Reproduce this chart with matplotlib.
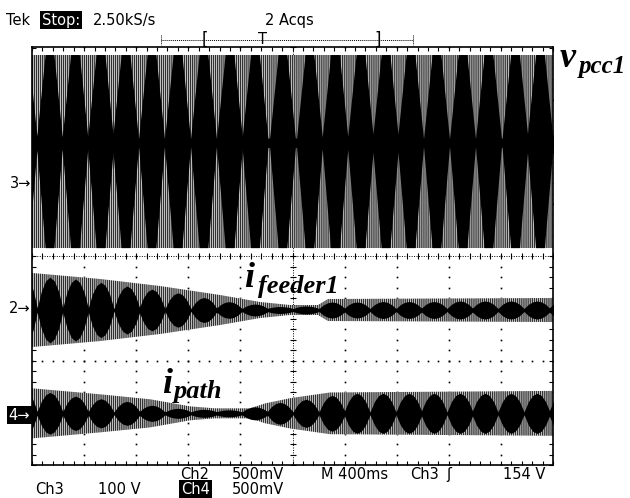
import numpy as np
import matplotlib
matplotlib.use("Agg")
import matplotlib.pyplot as plt

plt.rcParams['hatch.linewidth'] = 1.0

# screen is 10 x 8 divisions, values below are in divisions
# Ch3 (v_pcc1)
ch3_offset = 2.015
ch3_centers = [-0.15, 0.336, 0.825, 1.315, 1.795, 2.294, 2.793, 3.292, 3.791, 4.280,
               4.808, 5.326, 5.816, 6.305, 6.785, 7.265, 7.764, 8.263, 8.762, 9.271,
               9.750, 10.24]
ch3_peaks = [1.85] * 22
ch3_neck_hi, ch3_neck_lo = 0.25, -0.07
ch3_env_x = [0, 10]
ch3_env = [1.85, 1.85]

# Ch2 (i_feeder1)
ch2_offset = -1.03
ch2_centers = [-0.144, 0.345, 0.835, 1.324, 1.823, 2.303, 2.802, 3.301, 3.781, 4.280,
               4.760, 5.259, 5.758, 6.238, 6.737, 7.236, 7.716, 8.215, 8.695, 9.194,
               9.693, 10.17]
ch2_peaks = [0.68, 0.63, 0.595, 0.53, 0.46, 0.40, 0.33, 0.24, 0.16, 0.115,
             0.067, 0.077, 0.154, 0.154, 0.163, 0.163, 0.163, 0.173, 0.173, 0.173,
             0.173, 0.173]
ch2_neck = 0.03
ch2_env_x = [0, 1.305, 2.457, 3.608, 4.376, 4.952, 5.489, 5.681, 10]
ch2_env = [0.71, 0.595, 0.46, 0.288, 0.154, 0.096, 0.096, 0.211, 0.23]

# Ch4 (i_path)
ch4_offset = -3.01
ch4_centers = [-0.144, 0.345, 0.835, 1.324, 1.823, 2.303, 2.802, 3.301, 3.781, 4.280,
               4.760, 5.259, 5.758, 6.238, 6.737, 7.236, 7.716, 8.215, 8.695, 9.194,
               9.693, 10.17]
ch4_peaks = [0.44, 0.40, 0.33, 0.28, 0.23, 0.155, 0.096, 0.077, 0.067, 0.125,
             0.21, 0.27, 0.345, 0.385, 0.385, 0.385, 0.385, 0.385, 0.385, 0.385,
             0.385, 0.385]
ch4_neck = 0.03
ch4_env_x = [0, 1.305, 2.265, 3.033, 3.512, 4.184, 4.472, 4.952, 5.72, 10]
ch4_env = [0.48, 0.365, 0.27, 0.134, 0.096, 0.096, 0.19, 0.29, 0.40, 0.43]

lobe_period = 0.495
# lobe shapes (position in lobe, fraction of peak)
lens_pos = [0, 1/6, 2/6, 0.5, 4/6, 5/6, 1]
lens_val = [0, 0.55, 0.88, 1.0, 0.88, 0.55, 0]
flat_pos = [0, 0.33, 0.67, 1]
flat_val = [0, 1, 1, 0]


def lobes(centers, peaks, pos, val, neck_hi, neck_lo):
    xs, hi, lo = [], [], []
    for c, p in zip(centers, peaks):
        for f, v in zip(pos, val):
            xs.append(c + (f - 0.5) * lobe_period)
            hi.append(neck_hi + (p - neck_hi) * v)
            lo.append(neck_lo + (p - neck_lo) * v)
    return np.array(xs), np.array(hi), np.array(lo)


def draw_trace(ax, offset, env_x, env, xs, hi, lo):
    env = np.array(env)
    ax.fill_between(env_x, offset - env, offset + env, facecolor='white',
                    edgecolor='#303030', hatch='|' * 8, linewidth=0, zorder=2)
    ax.fill_between(xs, offset - lo, offset + hi, color='black', linewidth=0, zorder=3)


fig = plt.figure(figsize=(6.3, 4.98), dpi=100)
ax = fig.add_axes([32 / 630, 33 / 498, 521 / 630, 417.5 / 498])
ax.set_xlim(0, 10)
ax.set_ylim(-4, 4)

# graticule
ax.set_xticks(np.arange(0, 10.01, 1))
ax.set_xticks(np.arange(0, 10.01, 0.2), minor=True)
ax.set_yticks(np.arange(-4, 4.01, 1))
ax.set_yticks(np.arange(-4, 4.01, 0.2), minor=True)
ax.tick_params(which='both', direction='in', top=True, right=True, length=3,
               width=0.8, labelbottom=False, labelleft=False)
for s in ax.spines.values():
    s.set_linewidth(1.2)

dots_y = np.arange(-4, 4.01, 0.2)
dots_x = np.arange(0, 10.01, 0.2)
for gx in range(1, 10):
    if gx != 5:
        ax.plot(np.full(dots_y.size, gx), dots_y, ls='none', marker='s', ms=1.2,
                mec='none', color='black', zorder=1)
for gy in range(-3, 4):
    if gy != 0:
        ax.plot(dots_x, np.full(dots_x.size, gy), ls='none', marker='s', ms=1.2,
                mec='none', color='black', zorder=1)
ax.axvline(5, color='black', lw=0.7, ls=(0, (1, 1.5)), zorder=1)
ax.axhline(0, color='black', lw=0.7, ls=(0, (1, 1.5)), zorder=1)
ax.plot(np.full(dots_y.size, 5), dots_y, ls='none', marker='_', ms=5, mew=0.8,
        color='black', zorder=1)
ax.plot(dots_x, np.zeros(dots_x.size), ls='none', marker='|', ms=5, mew=0.8,
        color='black', zorder=1)

draw_trace(ax, ch3_offset, ch3_env_x, ch3_env,
           *lobes(ch3_centers, ch3_peaks, flat_pos, flat_val, ch3_neck_hi, ch3_neck_lo))
draw_trace(ax, ch2_offset, ch2_env_x, ch2_env,
           *lobes(ch2_centers, ch2_peaks, lens_pos, lens_val, ch2_neck, ch2_neck))
draw_trace(ax, ch4_offset, ch4_env_x, ch4_env,
           *lobes(ch4_centers, ch4_peaks, lens_pos, lens_val, ch4_neck, ch4_neck))

# overlay in pixel coordinates for the scope readouts
ov = fig.add_axes([0, 0, 1, 1], zorder=5)
ov.set_xlim(0, 630)
ov.set_ylim(498, 0)
ov.axis('off')

mono = dict(family='DejaVu Sans', fontsize=10.5, va='center', color='black')
inv = dict(boxstyle='square,pad=0.12', fc='black', ec='none')

ov.text(6, 20, 'Tek', **mono)
ov.text(42, 20, 'Stop:', bbox=inv, **{**mono, 'color': 'white'})
ov.text(93, 20, '2.50kS/s', **mono)
ov.text(265, 20, '2 Acqs', **mono)

ov.plot([161, 413], [40, 40], color='black', lw=0.7, ls=(0, (1, 1)))
ov.plot([161, 161], [35, 45], color='black', lw=0.7, ls=(0, (1, 1)))
ov.plot([413, 413], [35, 45], color='black', lw=0.7, ls=(0, (1, 1)))
ov.text(205, 40, '[', ha='center', **{**mono, 'fontsize': 12})
ov.text(263, 39, 'T', ha='center', **mono)
ov.text(378, 40, ']', ha='center', **{**mono, 'fontsize': 12})

ov.text(180, 474, 'Ch2', **mono)
ov.text(232, 474, '500mV', **mono)
ov.text(321, 474, 'M 400ms', **mono)
ov.text(410, 474, 'Ch3', **mono)
ov.text(446, 474, '\u0283', **mono)
ov.text(503, 474, '154 V', **mono)
ov.text(35, 489, 'Ch3', **mono)
ov.text(98, 489, '100 V', **mono)
ov.text(181, 489, 'Ch4', bbox=inv, **{**mono, 'color': 'white'})
ov.text(232, 489, '500mV', **mono)

ov.text(31, 183, '3\u2192', ha='right', **mono)
ov.text(31, 308, '2\u2192', ha='right', **mono)
ov.text(30, 415, '4\u2192', ha='right', bbox=inv, **{**mono, 'color': 'white'})

lab = dict(family='Liberation Serif', weight='bold', style='italic', va='baseline',
           color='black')
ov.text(560, 67, 'v', fontsize=26, **lab)
ov.text(579, 73, 'pcc1', fontsize=18, **lab)
ov.text(244, 287, 'i', fontsize=26, **lab)
ov.text(258, 293, 'feeder1', fontsize=19, **lab)
ov.text(162, 393, 'i', fontsize=26, **lab)
ov.text(174, 398, 'path', fontsize=19, **lab)

fig.savefig('out.png', dpi=100)
